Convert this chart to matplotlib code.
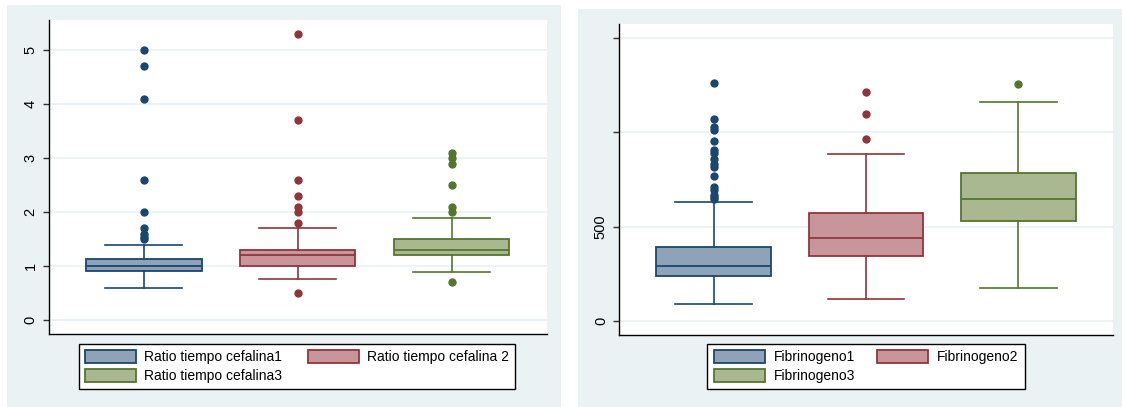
import matplotlib
matplotlib.use("Agg")
import matplotlib.pyplot as plt
from matplotlib.patches import Patch, Rectangle

plt.rcParams['font.family'] = ['Liberation Sans', 'DejaVu Sans']

# ---- data: Ratio tiempo cefalina ----
rtc_labels = ["Ratio tiempo cefalina1", "Ratio tiempo cefalina 2", "Ratio tiempo cefalina3"]
rtc_q1 = [0.91, 1.0, 1.2]
rtc_med = [1.0, 1.2, 1.3]
rtc_q3 = [1.13, 1.3, 1.5]
rtc_wlo = [0.6, 0.77, 0.9]
rtc_whi = [1.4, 1.7, 1.9]
rtc_fliers = [
    [1.5, 1.55, 1.6, 1.7, 2.0, 2.6, 4.1, 4.7, 5.0],
    [0.5, 1.8, 2.0, 2.1, 2.3, 2.6, 3.7, 5.3],
    [0.7, 2.0, 2.1, 2.5, 2.9, 3.0, 3.1],
]
rtc_ticks = [0, 1, 2, 3, 4, 5]
rtc_ticklabels = ["0", "1", "2", "3", "4", "5"]

# ---- data: Fibrinogeno ----
fib_labels = ["Fibrinogeno1", "Fibrinogeno2", "Fibrinogeno3"]
fib_q1 = [238, 343, 530]
fib_med = [293, 441, 645]
fib_q3 = [393, 572, 782]
fib_wlo = [88, 117, 176]
fib_whi = [629, 885, 1162]
fib_fliers = [
    [645, 655, 670, 695, 710, 768, 817, 834, 856, 888, 906, 955, 1012, 1029, 1070, 1262],
    [962, 1096, 1213],
    [1255],
]
fib_ticks = [0, 500, 1000, 1500]
fib_ticklabels = ["0", "500", "", ""]

edge_colors = ["#1A476F", "#90353B", "#55752F"]
fill_colors = ["#8EA3B8", "#C8969A", "#AAB892"]
bg = "#EAF2F3"

W, H = 1122, 407
fig = plt.figure(figsize=(W / 100, H / 100), dpi=100)
fig.patch.set_facecolor("white")

def px_rect(x0, y0, x1, y1):
    return Rectangle((x0 / W, 1 - y1 / H), (x1 - x0) / W, (y1 - y0) / H,
                     transform=fig.transFigure, facecolor=bg, edgecolor="none", zorder=-10)

fig.patches.append(px_rect(7, 5, 561, 407))
fig.patches.append(px_rect(578, 9, 1122, 407))

def make_ax(x0, y0, x1, y1):
    return fig.add_axes([x0 / W, 1 - y1 / H, (x1 - x0) / W, (y1 - y0) / H])

def draw(ax, labels, q1, med, q3, wlo, whi, fliers, ticks, ticklabels, ylim, leg_top, leg_cx, colspace):
    stats = []
    for i in range(3):
        stats.append(dict(med=med[i], q1=q1[i], q3=q3[i], whislo=wlo[i], whishi=whi[i],
                          fliers=fliers[i], label=labels[i]))
    res = ax.bxp(stats, positions=[1, 2, 3], widths=0.75, capwidths=0.5,
                 patch_artist=True, showfliers=True, manage_ticks=False)
    for i in range(3):
        c = edge_colors[i]
        res['boxes'][i].set(facecolor=fill_colors[i], edgecolor=c, linewidth=1.3)
        res['medians'][i].set(color=c, linewidth=1.3)
        for w in res['whiskers'][2 * i:2 * i + 2]:
            w.set(color=c, linewidth=1.2)
        for cp in res['caps'][2 * i:2 * i + 2]:
            cp.set(color=c, linewidth=1.2)
        res['fliers'][i].set(marker='o', markerfacecolor=c, markeredgecolor=c,
                             markersize=5, linestyle='none')
    ax.set_xlim(0.38, 3.62)
    ax.set_ylim(*ylim)
    ax.set_xticks([])
    ax.set_yticks(ticks)
    ax.set_yticklabels(ticklabels, rotation=90, va='center', fontsize=10.5)
    ax.tick_params(axis='y', direction='out', length=4, width=1, color="#333333", pad=4)
    ax.yaxis.grid(True, color=bg, linewidth=1.3)
    ax.set_axisbelow(True)
    for s in ["top", "right"]:
        ax.spines[s].set_visible(False)
    for s in ["left", "bottom"]:
        ax.spines[s].set_color("black")
        ax.spines[s].set_linewidth(1.0)
    handles = [Patch(facecolor=fill_colors[i], edgecolor=edge_colors[i], linewidth=1.3,
                     label=labels[i]) for i in range(3)]
    # row-wise order: (1, 2) on first row, 3 on second row
    handles = [handles[0], handles[2], handles[1]]
    leg = ax.legend(handles=handles, ncol=2, loc="upper center",
                    bbox_to_anchor=(leg_cx / W, 1 - leg_top / H), bbox_transform=fig.transFigure,
                    fontsize=10, frameon=True, fancybox=False, framealpha=1,
                    edgecolor="black", borderaxespad=0, handlelength=3.7,
                    handleheight=1.0, handletextpad=0.6, columnspacing=colspace,
                    labelspacing=0.35, borderpad=0.45)
    leg.get_frame().set_linewidth(1.0)

ax1 = make_ax(48.5, 20, 547, 334)
draw(ax1, rtc_labels, rtc_q1, rtc_med, rtc_q3, rtc_wlo, rtc_whi, rtc_fliers,
     rtc_ticks, rtc_ticklabels, (-0.254, 5.561), 344, 297, 1.8)

ax2 = make_ax(619, 24, 1113, 335)
draw(ax2, fib_labels, fib_q1, fib_med, fib_q3, fib_wlo, fib_whi, fib_fliers,
     fib_ticks, fib_ticklabels, (-74, 1573), 344, 866, 1.6)

fig.savefig("out.png", dpi=100, facecolor="white")
